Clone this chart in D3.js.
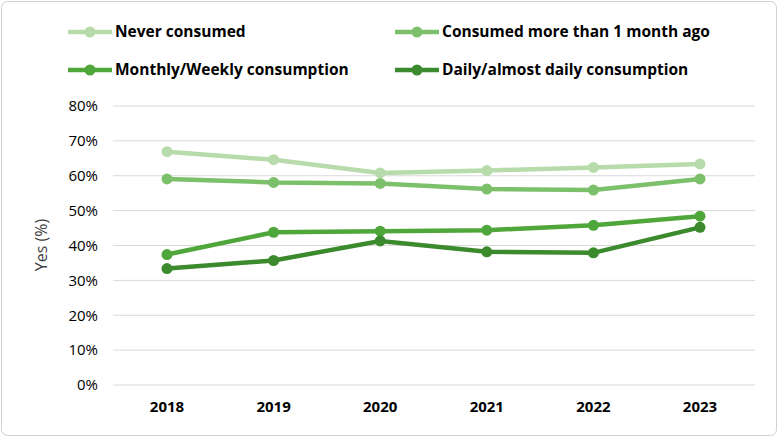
<!DOCTYPE html>
<html><head><meta charset="utf-8">
<script src="https://cdn.jsdelivr.net/npm/d3@7"></script>
<style>body{margin:0;background:#fff;font-family:"Open Sans",sans-serif}</style>
</head><body><svg id="c" width="778" height="437" style="font-family:'Open Sans',sans-serif"></svg>
<script>
const years=["2018","2019","2020","2021","2022","2023"];
const seriesNames=["Never consumed","Consumed more than 1 month ago","Monthly/Weekly consumption","Daily/almost daily consumption"];
const neverVals=[66.9,64.6,60.8,61.5,62.4,63.4];
const monthAgoVals=[59.1,58.1,57.8,56.2,55.9,59.1];
const monthlyVals=[37.4,43.8,44.1,44.4,45.8,48.4];
const dailyVals=[33.4,35.7,41.3,38.2,37.9,45.2];
const yTicks=[0,10,20,30,40,50,60,70,80];
const colors=["#b7dbaa","#7dc06b","#4fa63a","#3b8a2d"];
const data=[neverVals,monthAgoVals,monthlyVals,dailyVals];

const svg=d3.select("#c");
svg.append("rect").attr("x",1.5).attr("y",1.5).attr("width",775).attr("height",434).attr("rx",6).attr("fill","#fff").attr("stroke","#d0d0d0");
const x=d3.scalePoint().domain(years).range([167,700]);
const y=d3.scaleLinear().domain([0,80]).range([385,106]);
const g=svg.append("g");
g.selectAll("line.grid").data(yTicks).join("line").attr("x1",113).attr("x2",755)
 .attr("y1",d=>y(d)).attr("y2",d=>y(d)).attr("stroke","#d9d9d9").attr("stroke-width",1);
g.selectAll("text.yt").data(yTicks).join("text").attr("x",98).attr("y",d=>y(d)).attr("dy","0.35em")
 .attr("text-anchor","end").attr("font-size",15).attr("fill","#000").text(d=>d+"%");
g.selectAll("text.xt").data(years).join("text").attr("x",d=>x(d)).attr("y",412)
 .attr("text-anchor","middle").attr("font-size",15).attr("font-weight","bold").text(d=>d);
svg.append("text").attr("transform","translate(47,245) rotate(-90)").attr("text-anchor","middle")
 .attr("font-size",16).attr("fill","#404040").text("Yes (%)");
const line=d3.line().x((d,i)=>x(years[i])).y(d=>y(d));
data.forEach((vals,k)=>{
 svg.append("path").attr("d",line(vals)).attr("fill","none").attr("stroke",colors[k]).attr("stroke-width",4.5);
 svg.selectAll(null).data(vals).join("circle").attr("cx",(d,i)=>x(years[i])).attr("cy",d=>y(d)).attr("r",5.5).attr("fill",colors[k]);
});
const legPos=[[68,32],[395,32],[68,70],[395,70]];
seriesNames.forEach((n,k)=>{
 const [lx,ly]=legPos[k];
 svg.append("line").attr("x1",lx).attr("x2",lx+44).attr("y1",ly).attr("y2",ly).attr("stroke",colors[k]).attr("stroke-width",4.5);
 svg.append("circle").attr("cx",lx+22).attr("cy",ly).attr("r",5.5).attr("fill",colors[k]);
 svg.append("text").attr("x",lx+47).attr("y",ly).attr("dy","0.35em").attr("font-size",15.5).attr("font-weight","bold").text(n);
});
</script></body></html>
